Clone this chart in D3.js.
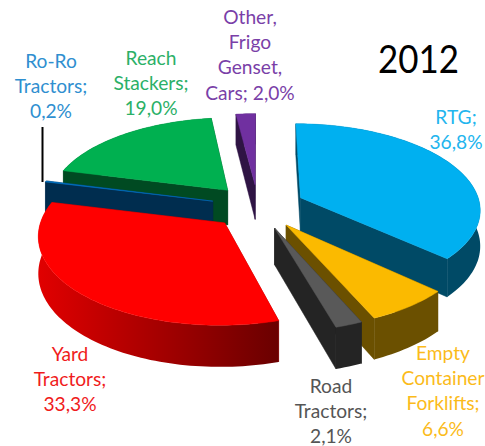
<!DOCTYPE html>
<html>
<head>
<meta charset="utf-8">
<script src="https://cdn.jsdelivr.net/npm/d3@7"></script>
<style>
  html, body { margin: 0; padding: 0; background: #fff; }
  text { font-family: Lato, "Open Sans", sans-serif; }
</style>
</head>
<body>
<svg id="chart" width="485" height="446" style="display:block"></svg>
<script>
// Equipment shares for 2012, clockwise from twelve o'clock
const categories = ["RTG", "Empty Container Forklifts", "Road Tractors", "Yard Tractors", "Ro-Ro Tractors", "Reach Stackers", "Other, Frigo Genset, Cars"];
const shares = [36.8, 6.6, 2.1, 33.3, 0.2, 19.0, 2.0];
const shareLabels = ["36,8%", "6,6%", "2,1%", "33,3%", "0,2%", "19,0%", "2,0%"];
const topColors = ["#00b0f0", "#fbba00", "#595959", "#ff0000", "#0070c0", "#00b050", "#7030a0"];
const sideColors = ["#004a66", "#6b5000", "#242424", "#a00000", "#002d4f", "#004a22", "#2f1444"];
const labelColors = ["#22b5ee", "#fbbb1a", "#555555", "#f01c1c", "#2f8fd0", "#2bb067", "#7a3fa8"];
const labelLines = [
  ["RTG;"], ["Empty", "Container", "Forklifts;"], ["Road", "Tractors;"], ["Yard", "Tractors;"],
  ["Ro-Ro", "Tractors;"], ["Reach", "Stackers;"], ["Other,", "Frigo", "Genset,", "Cars;"]
];
// The last label keeps its value on the same line as its final name line
const valueInline = [false, false, false, false, false, false, true];
const labelAnchors = [[456, 124], [443, 360], [331, 393], [70, 361], [51, 68], [151, 65], [250, 24]];
const title = "2012";

// Drawing order runs from the back of the pie to the front
const drawOrder = [6, 5, 4, 0, 1, 2, 3];

const cx = 258, cy = 206.5, radius = 180, explode = 47, depth = 35.5;
const tilt = 0.473, persp = 0.00069;

const svg = d3.select("#chart");
const defs = svg.append("defs");

// Ground-plane point to screen; forward is toward the viewer, drop is below the top face
function project(x, forward, drop) {
  const s = 1 / (1 - persp * forward);
  return [cx + x * s, cy + (forward * tilt + drop) * s];
}

const slices = d3.pie().sort(null).value(d => d)(shares);
const line = d3.line();

function wedgePoints(slice) {
  const mid = (slice.startAngle + slice.endAngle) / 2;
  const ax = explode * Math.sin(mid), af = -explode * Math.cos(mid);
  const steps = Math.max(2, Math.ceil((slice.endAngle - slice.startAngle) * 40));
  const arc = d3.range(steps + 1).map(i => {
    const a = slice.startAngle + (slice.endAngle - slice.startAngle) * i / steps;
    return [ax + radius * Math.sin(a), af - radius * Math.cos(a)];
  });
  return { apex: [ax, af], arc };
}

const pies = svg.append("g");
drawOrder.forEach(i => {
  const { apex, arc } = wedgePoints(slices[i]);
  const g = pies.append("g");
  const up = p => project(p[0], p[1], 0);
  const down = p => project(p[0], p[1], depth);
  const face = (pts, fill) => g.append("path")
    .attr("d", line(pts) + "Z").attr("fill", fill)
    .attr("stroke", fill).attr("stroke-width", 0.5);

  // The two cut faces sit behind the curved rim
  const first = arc[0], last = arc[arc.length - 1];
  face([up(apex), up(first), down(first), down(apex)], sideColors[i]);
  face([up(apex), up(last), down(last), down(apex)], sideColors[i]);

  // Curved rim; the large red slice shades from left to right
  let rimFill = sideColors[i];
  if (categories[i] === "Yard Tractors") {
    const grad = defs.append("linearGradient").attr("id", "rimShade")
      .attr("gradientUnits", "userSpaceOnUse")
      .attr("x1", 40).attr("x2", 282).attr("y1", 0).attr("y2", 0);
    grad.append("stop").attr("offset", 0).attr("stop-color", "#e00000");
    grad.append("stop").attr("offset", 1).attr("stop-color", "#680000");
    rimFill = "url(#rimShade)";
  }
  g.append("path")
    .attr("d", line(arc.map(up).concat(arc.slice().reverse().map(down))) + "Z")
    .attr("fill", rimFill);

  // Top face
  face([up(apex)].concat(arc.map(up)), topColors[i]);
});

// Leader line for the thinnest slice
svg.append("line")
  .attr("x1", 42.5).attr("x2", 42.5).attr("y1", 127).attr("y2", 182)
  .attr("stroke", "#000").attr("stroke-width", 2);

// Data labels: name lines, then the value
const labels = svg.append("g").attr("font-size", 19.2).attr("text-anchor", "middle");
categories.forEach((c, i) => {
  const t = labels.append("text").attr("fill", labelColors[i]);
  const lines = valueInline[i]
    ? labelLines[i].slice(0, -1).concat(labelLines[i][labelLines[i].length - 1] + " " + shareLabels[i])
    : labelLines[i].concat(shareLabels[i]);
  lines.forEach((s, k) => {
    t.append("tspan")
      .attr("x", labelAnchors[i][0])
      .attr("y", labelAnchors[i][1] + k * 25.2)
      .text(s);
  });
});

svg.append("text")
  .attr("x", 418.5).attr("y", 73)
  .attr("text-anchor", "middle").attr("font-size", 38)
  .attr("textLength", 81).attr("lengthAdjust", "spacingAndGlyphs")
  .attr("fill", "#000").text(title);
</script>
</body>
</html>
